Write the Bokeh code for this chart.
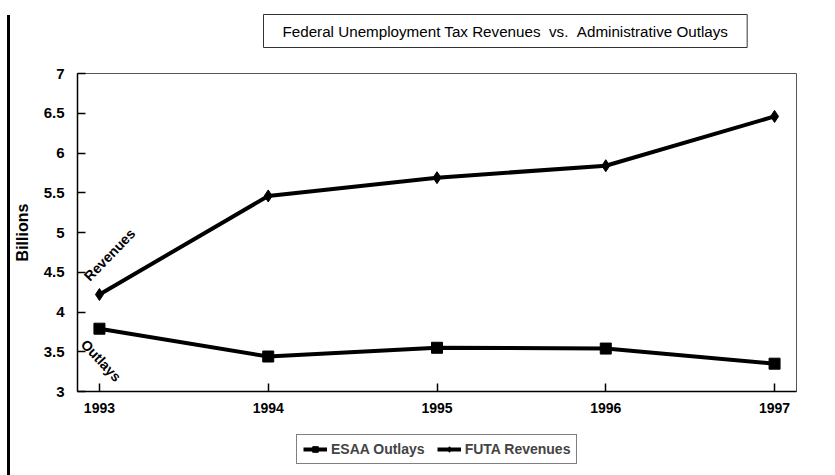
from bokeh.plotting import figure
from bokeh.models import (Range1d, FixedTicker, Legend, LegendItem, ColumnDataSource, Div, Title)
from bokeh.layouts import row, column
from bokeh.core.properties import value
from bokeh.embed import file_html
from bokeh.resources import INLINE

years = [1993, 1994, 1995, 1996, 1997]
futa_revenues = [4.22, 5.46, 5.69, 5.84, 6.46]
esaa_outlays = [3.79, 3.44, 3.55, 3.54, 3.35]
y_ticks = [3, 3.5, 4, 4.5, 5, 5.5, 6, 6.5, 7]
y_tick_labels = {3: "3", 3.5: "3.5", 4: "4", 4.5: "4.5", 5: "5", 5.5: "5.5", 6: "6", 6.5: "6.5", 7: "7"}
title_text = "Federal Unemployment Tax Revenues \u00a0vs. \u00a0Administrative Outlays"
series_labels = ["ESAA Outlays", "FUTA Revenues"]

FONT = "Liberation Sans"

p = figure(width=825, height=430, output_backend="svg", toolbar_location=None,
           x_range=Range1d(1992.87, 1997.13), y_range=Range1d(3, 7),
           min_border_left=67, min_border_right=39, min_border_top=73, min_border_bottom=39)
p.background_fill_color = "white"
p.border_fill_color = "white"
p.outline_line_color = "#555555"
p.outline_line_width = 1
p.xgrid.visible = False
p.ygrid.visible = False
p.title.visible = False

# spacer keeps the boxed title clear of the plot frame
p.add_layout(Title(text=" ", text_font_size="2px", standoff=21), "above")
p.add_layout(Title(text=title_text, text_font=FONT, text_font_size="15.2px",
                   text_font_style="normal", text_color="black", align="left", offset=186,
                   border_line_color="#333333", border_line_width=1,
                   background_fill_color="white", padding=(19, 8), standoff=2), "above")

p.xaxis.ticker = FixedTicker(ticks=years)
p.yaxis.ticker = FixedTicker(ticks=y_ticks)
p.yaxis.major_label_overrides = y_tick_labels
for ax in (p.xaxis, p.yaxis):
    ax.major_tick_in = 8
    ax.major_tick_out = 0
    ax.minor_tick_line_color = None
    ax.axis_line_color = "black"
    ax.axis_line_width = 1.5
    ax.major_tick_line_color = "black"
    ax.major_tick_line_width = 1.5
    ax.major_label_text_font = FONT
    ax.major_label_text_font_style = "bold"
    ax.major_label_text_font_size = "14px"
    ax.major_label_text_color = "black"
p.yaxis.major_label_text_font_size = "15px"
p.xaxis.major_label_standoff = 11
p.yaxis.major_label_standoff = 13
p.yaxis.axis_label = "Billions"
p.yaxis.axis_label_text_font = FONT
p.yaxis.axis_label_text_font_style = "bold"
p.yaxis.axis_label_text_font_size = "16px"
p.yaxis.axis_label_text_color = "black"
p.yaxis.axis_label_standoff = 10

src = ColumnDataSource(dict(year=years, rev=futa_revenues, out=esaa_outlays))
p.line("year", "out", source=src, line_color="black", line_width=4)
p.scatter("year", "out", source=src, marker="square", size=11,
          fill_color="black", line_color="black")
p.line("year", "rev", source=src, line_color="black", line_width=4)
p.scatter("year", "rev", source=src, marker="diamond", size=12,
          fill_color="black", line_color="black")

# series annotations
p.text(x=[years[0] + 0.06], y=[futa_revenues[0] + 0.50], text=["Revenues"], angle=0.80,
       text_font=value(FONT), text_font_style="bold", text_font_size="14px",
       text_align="center", text_baseline="middle", text_color="black")
p.text(x=[years[0] + 0.01], y=[esaa_outlays[0] - 0.40], text=["Outlays"], angle=-0.82,
       text_font=value(FONT), text_font_style="bold", text_font_size="14px",
       text_align="center", text_baseline="middle", text_color="black")

# legend strip below the chart
lg = figure(width=825, height=45, output_backend="svg", toolbar_location=None,
            x_range=Range1d(0, 1), y_range=Range1d(0, 1),
            x_axis_location=None, y_axis_location=None,
            min_border_left=0, min_border_right=0, min_border_top=0, min_border_bottom=0)
lg.grid.visible = False
lg.outline_line_color = None
lg.background_fill_color = "white"
lg.border_fill_color = "white"
offscreen = ColumnDataSource(dict(x=[-5], y=[-5]))
lo_line = lg.line("x", "y", source=offscreen, line_color="black", line_width=4)
lo_mark = lg.scatter("x", "y", source=offscreen, marker="square", size=11,
                     fill_color="black", line_color="black")
lr_line = lg.line("x", "y", source=offscreen, line_color="black", line_width=4)
lr_mark = lg.scatter("x", "y", source=offscreen, marker="diamond", size=12,
                     fill_color="black", line_color="black")
legend = Legend(items=[LegendItem(label=series_labels[0], renderers=[lo_line, lo_mark]),
                       LegendItem(label=series_labels[1], renderers=[lr_line, lr_mark])],
                orientation="horizontal", location=(219, 11),
                label_text_font=FONT, label_text_font_style="bold",
                label_text_font_size="14px", border_line_color="black",
                border_line_width=1, glyph_width=24, glyph_height=14, spacing=12, padding=6,
                label_standoff=4, margin=0, label_height=14,
                background_fill_color="white")
lg.add_layout(legend, "center")

frame_line = Div(width=10, height=460, margin=(15, 0, 0, 0),
                 styles={"box-sizing": "border-box", "border-left": "7px solid white",
                         "border-right": "3px solid black"})

layout = row(frame_line, column(p, lg, spacing=0), spacing=0)
open("out.html", "w").write(file_html(layout, INLINE))
